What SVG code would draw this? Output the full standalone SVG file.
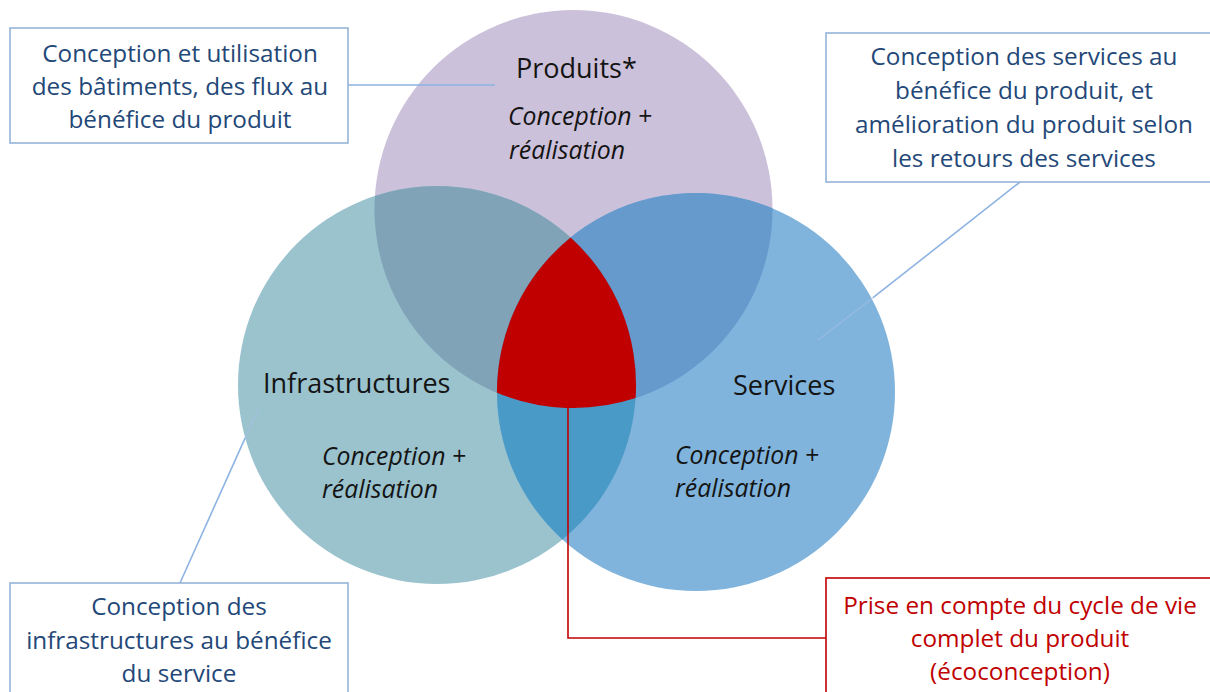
<svg xmlns="http://www.w3.org/2000/svg" width="1210" height="692" viewBox="0 0 1210 692">
<style>
.box{fill:#ffffff;stroke:#95B3D7;stroke-width:1.6}
.rbox{fill:#ffffff;stroke:#C00000;stroke-width:1.6}
.bt{font-family:"Open Sans","Noto Sans",sans-serif;font-size:24.3px;fill:#234878;text-anchor:middle}
.rt{font-family:"Open Sans","Noto Sans",sans-serif;font-size:24.3px;fill:#C00000;text-anchor:middle}
.hd{font-family:"Open Sans","Noto Sans",sans-serif;font-size:27px;fill:#141414}
.it{font-family:"Open Sans","Noto Sans",sans-serif;font-size:24.8px;font-style:italic;fill:#141414}
.con{fill:none;stroke:#8DB3E2;stroke-width:1.6}
.conf{fill:none;stroke:#A9C0E6;stroke-width:1.4;stroke-opacity:0.55}
.rcon{fill:none;stroke:#C00000;stroke-width:1.6}
</style>
<rect width="1210" height="692" fill="#ffffff"/>
<g id="venn">
<circle id="circle-produits" cx="573.5" cy="209" r="199" fill="#CCC1DA"/>
<circle id="circle-infrastructures" cx="437" cy="385" r="199" fill="#9AC3CE"/>
<circle id="circle-services" cx="696" cy="392" r="199" fill="#80B4DC"/>
<path id="lens-pi" d="M 374.9 195.9 A 199 199 0 0 1 635.6 398.1 A 199 199 0 0 1 374.9 195.9 Z" fill="#80A3B7"/>
<path id="lens-ps" d="M 772.55 208.3 A 199 199 0 0 0 496.95 392.7 A 199 199 0 0 0 772.55 208.3 Z" fill="#6699CC"/>
<path id="lens-is" d="M 570.58 237.5 A 199 199 0 0 0 562.42 539.5 A 199 199 0 0 0 570.58 237.5 Z" fill="#4A9AC8"/>
<path id="center" d="M 570.58 237.5 A 199 199 0 0 1 635.6 398.1 A 199 199 0 0 1 496.95 392.7 A 199 199 0 0 1 570.58 237.5 Z" fill="#C00000"/>
</g>
<g id="connectors">
<line class="con" x1="348" y1="85" x2="495" y2="85"/>
<line class="con" x1="1020" y1="182" x2="873" y2="297.7"/>
<line class="conf" x1="873" y1="297.7" x2="818" y2="340"/>
<line class="con" x1="180" y1="583" x2="245.2" y2="437.9"/>
<line class="conf" x1="245.2" y1="437.9" x2="259" y2="407"/>
<polyline class="rcon" points="568,408 568,638 826,638"/>
</g>
<g id="node-produits">
<text class="hd" x="516" y="78">Produits*</text>
<text class="it" x="508" y="125">Conception +</text>
<text class="it" x="509" y="159">réalisation</text>
</g>
<g id="node-infrastructures">
<text class="hd" x="263" y="393">Infrastructures</text>
<text class="it" x="322" y="465">Conception +</text>
<text class="it" x="322" y="498">réalisation</text>
</g>
<g id="node-services">
<text class="hd" x="733" y="395">Services</text>
<text class="it" x="675" y="464">Conception +</text>
<text class="it" x="675" y="497">réalisation</text>
</g>
<g id="box-top-left">
<rect class="box" x="10" y="28" width="338" height="115"/>
<text class="bt" x="180" y="62">Conception et utilisation</text>
<text class="bt" x="180" y="95">des bâtiments, des flux au</text>
<text class="bt" x="180" y="128">bénéfice du produit</text>
</g>
<g id="box-top-right">
<rect class="box" x="826" y="33" width="390" height="149"/>
<text class="bt" x="1024" y="65">Conception des services au</text>
<text class="bt" x="1024" y="99">bénéfice du produit, et</text>
<text class="bt" x="1024" y="133">amélioration du produit selon</text>
<text class="bt" x="1024" y="167">les retours des services</text>
</g>
<g id="box-bottom-left">
<rect class="box" x="10" y="583" width="338" height="120"/>
<text class="bt" x="179" y="615">Conception des</text>
<text class="bt" x="179" y="649">infrastructures au bénéfice</text>
<text class="bt" x="179" y="682">du service</text>
</g>
<g id="box-bottom-right">
<rect class="rbox" x="826" y="578" width="390" height="125"/>
<text class="rt" x="1020" y="614">Prise en compte du cycle de vie</text>
<text class="rt" x="1020" y="647">complet du produit</text>
<text class="rt" x="1020" y="680">(écoconception)</text>
</g>
</svg>
